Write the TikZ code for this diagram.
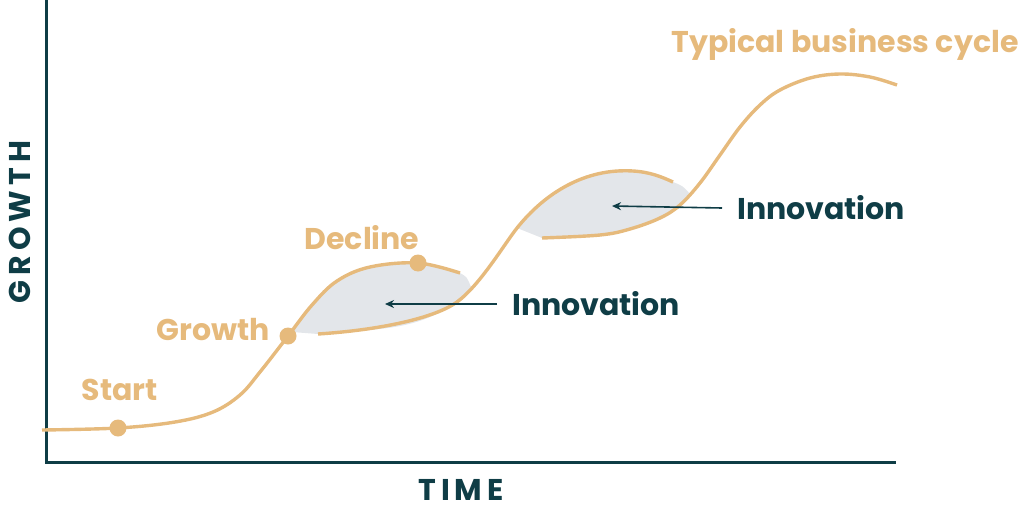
\documentclass[tikz,border=0pt]{standalone}
\usepackage{fontspec}
\setmainfont{Poppins}
\usetikzlibrary{arrows.meta}
\definecolor{gold}{HTML}{E6BA7C}
\definecolor{teal}{HTML}{0F3D46}
\definecolor{lensgrey}{HTML}{E3E6EA}
\tikzset{
  curve/.style={draw=gold,line width=3.4pt,line cap=butt},
  lens/.style={fill=lensgrey},
  dot/.style={circle,fill=gold,minimum size=17pt,inner sep=0pt},
  goldlabel/.style={text=gold,font=\fontsize{30}{34}\selectfont\bfseries,inner sep=0pt},
  teallabel/.style={text=teal,font=\fontsize{30}{34}\selectfont\bfseries,inner sep=0pt,anchor=west},
  axislabel/.style={text=teal,font=\fontsize{30}{34}\selectfont\bfseries,inner sep=0pt},
  axis/.style={draw=teal,line width=3pt},
  pointer/.style={draw=teal,line width=1.6pt,-{Stealth[length=9pt,width=8pt]}}
}
\begin{document}
\begin{tikzpicture}[x=1pt,y=-1pt]
\useasboundingbox (0,0) rectangle (1024,511);
% lenses
\fill[lens] plot[smooth,tension=0.6] coordinates {(292,332)(312,305)(337,281)(370,267)(418,263)(460,273)} .. controls (467,277) .. (471,287)
  -- plot[smooth,tension=0.6] coordinates {(471,287)(457,302)(430,317)(400,326)(360,331)(318,334)} -- cycle;
\fill[lens] (517,228) .. controls (545,193) and (585,168) .. (633,171) .. controls (650,172) and (662,177) .. (673,182) .. controls (683,186) .. (690,194)
  -- plot[smooth,tension=0.6] coordinates {(690,194)(680,205)(660,218)(630,229)(600,235)(542,238)} -- cycle;
% axes
\coordinate (origin) at (46,462);
\coordinate (ytop) at (46,0);
\coordinate (xend) at (896,462);
\draw[axis] (ytop) -- (origin) -- (xend);
% curves
\draw[curve] plot[smooth,tension=0.6] coordinates {(42,430)(118,428)(175,422)(213,412)(240,395)(260,372)(288,336)(312,305)(337,281)(370,267)(418,263)(460,273)};
\draw[curve] (318,334) .. controls (380,330) and (435,318) .. (457,302)
  .. controls (480,285) and (503,246) .. (517,228)
  .. controls (545,193) and (585,168) .. (633,171)
  .. controls (650,172) and (662,177) .. (673,182);
\draw[curve] plot[smooth,tension=0.6] coordinates {(542,238)(600,235)(630,229)(660,218)(680,205)(700,183)(720,155)(740,127)(760,105)(780,90)(810,78)(840,74)(870,77)(897,85)};
% dots
\node[dot] (startdot) at (118,428) {};
\node[dot] (growthdot) at (288,336) {};
\node[dot] (declinedot) at (418,263) {};
% labels
\node[goldlabel] (start) at (120,390) {Start};
\node[goldlabel] (growth) at (213,330) {Growth};
\node[goldlabel] (decline) at (362,238) {Decline};
\node[goldlabel] (cycle) at (845,44) {Typical business cycle};
\node[teallabel] (inno1) at (512,304) {Innovation};
\node[teallabel] (inno2) at (737,208) {Innovation};
\node[axislabel] (time) at (461,490) {T\,I\,M\,E};
\node[axislabel,rotate=90] (growthax) at (20,222) {G\,R\,O\,W\,T\,H};
% pointers
\coordinate (tip1) at (385,304);
\coordinate (tip2) at (612,206);
\draw[pointer] ([xshift=-15pt]inno1.west) -- (tip1);
\draw[pointer] ([xshift=-15pt]inno2.west) -- (tip2);
\end{tikzpicture}
\end{document}
